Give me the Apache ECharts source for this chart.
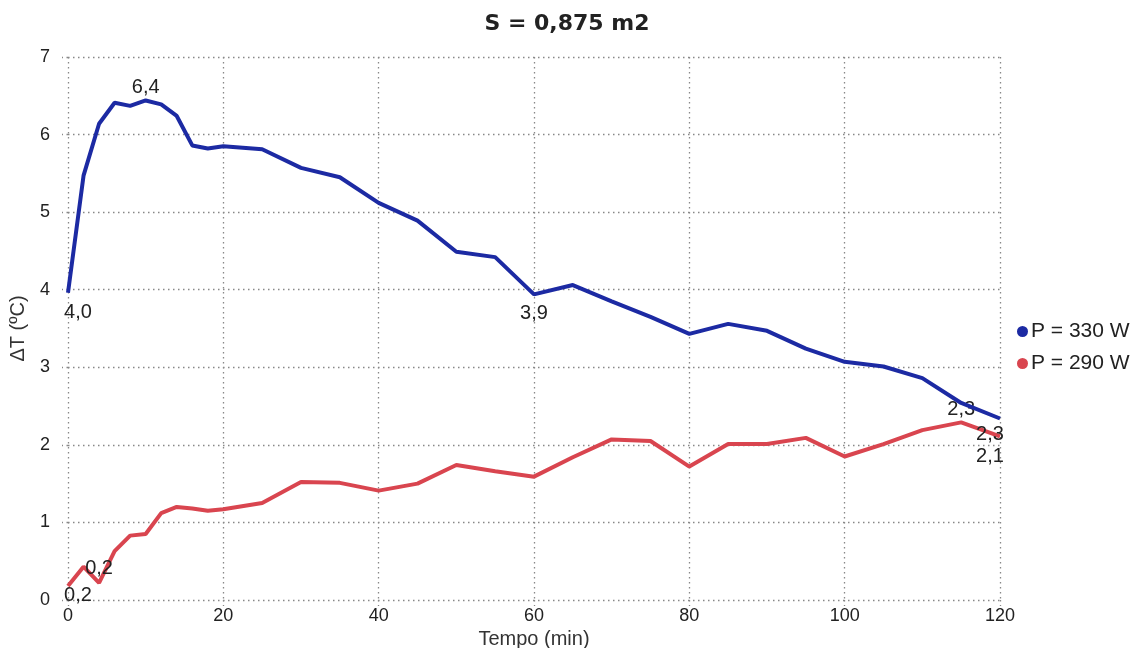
<!DOCTYPE html>
<html>
<head>
<meta charset="utf-8">
<script src="https://cdn.jsdelivr.net/npm/echarts@6/dist/echarts.min.js"></script>
<style>
html,body{margin:0;padding:0;background:#fff;}
#chart{width:1134px;height:648px;}
</style>
</head>
<body>
<div id="chart"></div>
<script>
const titleText = 'S = 0,875 m2';
const xName = 'Tempo (min)';
const yName = 'ΔT (ºC)';
const timeMin = [0,2,4,6,8,10,12,14,16,18,20,25,30,35,40,45,50,55,60,65,70,75,80,85,90,95,100,105,110,115,120];
const p330 = [3.96,5.47,6.14,6.41,6.37,6.44,6.39,6.24,5.86,5.82,5.85,5.81,5.57,5.45,5.12,4.89,4.49,4.42,3.94,4.06,3.85,3.65,3.43,3.56,3.47,3.24,3.07,3.01,2.86,2.54,2.34];
const p290 = [0.18,0.43,0.22,0.63,0.83,0.85,1.12,1.20,1.18,1.15,1.17,1.25,1.52,1.51,1.41,1.50,1.74,1.66,1.59,1.84,2.07,2.05,1.72,2.01,2.01,2.09,1.85,2.01,2.19,2.29,2.11];
const seriesNames = ['P = 330 W','P = 290 W'];
const yTicks = [0,7,1];   // min, max, interval
const xTicks = [0,120,20];

// which points carry a value label (index -> placement)
const labels330 = {0:{position:'bottom',offset:[10,6]},5:{position:'top',offset:[0,1]},18:{position:'bottom',offset:[0,5]},30:{position:'bottom',offset:[-10,2]}};
const labels290 = {0:{position:'bottom',offset:[10,-5]},2:{position:'top',offset:[0,0]},29:{position:'top',offset:[0,1]},30:{position:'bottom',offset:[-10,6]}};

const fmt = v => v.toFixed(1).replace('.', ',');
function build(vals, lab){
  return timeMin.map((t,i)=>{
    const o = {value:[t, vals[i]]};
    if (lab[i]) o.label = Object.assign({show:true}, lab[i]);
    return o;
  });
}
const gridStyle = {color:'#888', type:[1.5,3.5], width:1.3};
const chart = echarts.init(document.getElementById('chart'));
chart.setOption({
  animation:false,
  backgroundColor:'#fff',
  title:{text:titleText,left:'center',top:8,textStyle:{fontFamily:'DejaVu Sans',fontWeight:'bold',fontSize:22,color:'#222'}},
  legend:{orient:'vertical',left:1012,top:316,itemGap:11,icon:'circle',itemWidth:11,itemHeight:11,
    textStyle:{fontFamily:'Liberation Sans',fontSize:21,color:'#222',padding:[0,0,0,-2]},data:seriesNames},
  grid:{left:68,right:134,top:57,bottom:48,containLabel:false,outerBoundsMode:'none'},
  xAxis:{type:'value',min:xTicks[0],max:xTicks[1],interval:xTicks[2],name:xName,nameLocation:'middle',nameGap:26,
    nameTextStyle:{fontFamily:'Liberation Sans',fontSize:20,color:'#333'},
    axisLine:{show:false},axisTick:{show:true,length:6,lineStyle:gridStyle},
    axisLabel:{margin:7,fontFamily:'Liberation Sans',fontSize:18,color:'#222'},
    splitLine:{show:true,lineStyle:gridStyle}},
  yAxis:{type:'value',min:yTicks[0],max:yTicks[1],interval:yTicks[2],name:yName,nameLocation:'middle',nameGap:40,nameRotate:90,
    nameTextStyle:{fontFamily:'Liberation Sans',fontSize:20,color:'#333'},
    axisLine:{show:false},axisTick:{show:true,length:6,lineStyle:gridStyle},
    axisLabel:{margin:18,fontFamily:'Liberation Sans',fontSize:18,color:'#222'},
    splitLine:{show:true,lineStyle:gridStyle}},
  series:[
    {name:seriesNames[0],type:'line',data:build(p330,labels330),color:'#1c2aa3',
     symbol:'circle',symbolSize:0,showSymbol:true,lineStyle:{width:4,color:'#1c2aa3'},
     label:{show:false,formatter:p=>fmt(p.value[1]),fontFamily:'Liberation Sans',fontSize:20,color:'#222',distance:4},z:3},
    {name:seriesNames[1],type:'line',data:build(p290,labels290),color:'#d9454f',
     symbol:'circle',symbolSize:0,showSymbol:true,lineStyle:{width:4,color:'#d9454f'},
     label:{show:false,formatter:p=>fmt(p.value[1]),fontFamily:'Liberation Sans',fontSize:20,color:'#222',distance:4},z:2}
  ]
});
</script>
</body>
</html>
